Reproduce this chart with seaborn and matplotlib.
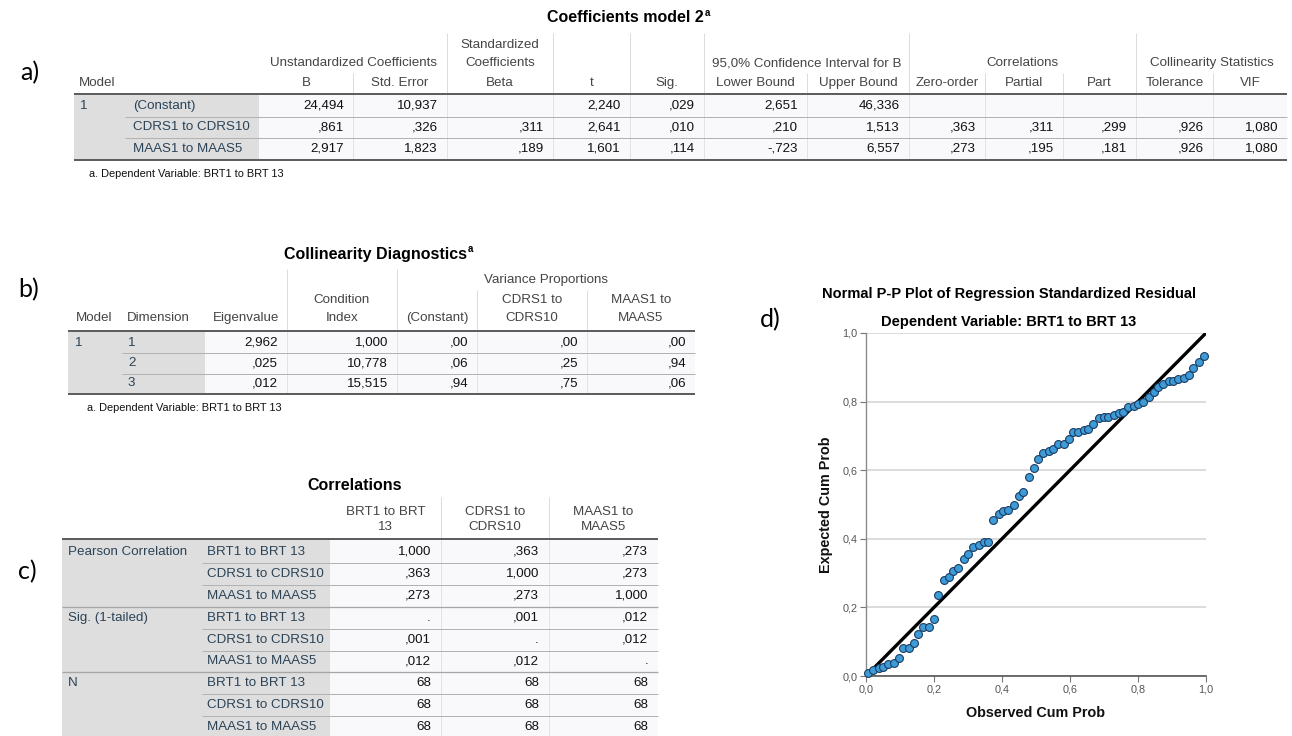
import matplotlib
matplotlib.use("Agg")
import matplotlib.pyplot as plt
from matplotlib.patches import Rectangle
from matplotlib.ticker import FuncFormatter
import pandas as pd
import seaborn as sns

# ---------------- a) Coefficients model 2 ----------------
coef_predictors = ["(Constant)", "CDRS1 to CDRS10", "MAAS1 to MAAS5"]
coef_b = ["24,494", ",861", "2,917"]
coef_se = ["10,937", ",326", "1,823"]
coef_beta = ["", ",311", ",189"]
coef_t = ["2,240", "2,641", "1,601"]
coef_sig = [",029", ",010", ",114"]
coef_lower = ["2,651", ",210", "-,723"]
coef_upper = ["46,336", "1,513", "6,557"]
coef_zero = ["", ",363", ",273"]
coef_partial = ["", ",311", ",195"]
coef_part = ["", ",299", ",181"]
coef_tol = ["", ",926", ",926"]
coef_vif = ["", "1,080", "1,080"]
coef_heads = ["B", "Std. Error", "Beta", "t", "Sig.", "Lower Bound", "Upper Bound",
              "Zero-order", "Partial", "Part", "Tolerance", "VIF"]

# ---------------- b) Collinearity diagnostics ----------------
diag_dims = ["1", "2", "3"]
diag_eigen = ["2,962", ",025", ",012"]
diag_cond = ["1,000", "10,778", "15,515"]
diag_vp_const = [",00", ",06", ",94"]
diag_vp_cdrs = [",00", ",25", ",75"]
diag_vp_maas = [",00", ",94", ",06"]

# ---------------- c) Correlations ----------------
corr_vars = ["BRT1 to BRT 13", "CDRS1 to CDRS10", "MAAS1 to MAAS5"]
corr_heads = [["BRT1 to BRT", "13"], ["CDRS1 to", "CDRS10"], ["MAAS1 to", "MAAS5"]]
corr_sections = ["Pearson Correlation", "Sig. (1-tailed)", "N"]
corr_pearson = [["1,000", ",363", ",273"], [",363", "1,000", ",273"], [",273", ",273", "1,000"]]
corr_sig = [[".", ",001", ",012"], [",001", ".", ",012"], [",012", ",012", "."]]
corr_n = [["68", "68", "68"], ["68", "68", "68"], ["68", "68", "68"]]

# ---------------- d) Normal P-P plot of standardized residuals ----------------
obs_cum_prob = [0.007, 0.022, 0.037, 0.051, 0.066, 0.081, 0.096, 0.110, 0.125, 0.140,
                0.154, 0.169, 0.184, 0.199, 0.213, 0.228, 0.243, 0.257, 0.272, 0.287,
                0.301, 0.316, 0.331, 0.346, 0.360, 0.375, 0.390, 0.404, 0.419, 0.434,
                0.449, 0.463, 0.478, 0.493, 0.507, 0.522, 0.537, 0.551, 0.566, 0.581,
                0.596, 0.610, 0.625, 0.640, 0.654, 0.669, 0.684, 0.699, 0.713, 0.728,
                0.743, 0.757, 0.772, 0.787, 0.801, 0.816, 0.831, 0.846, 0.860, 0.875,
                0.890, 0.904, 0.919, 0.934, 0.949, 0.963, 0.978, 0.993]
exp_cum_prob = [0.009, 0.018, 0.024, 0.026, 0.034, 0.038, 0.053, 0.083, 0.083, 0.096,
                0.122, 0.143, 0.143, 0.166, 0.236, 0.281, 0.289, 0.307, 0.316, 0.340,
                0.355, 0.375, 0.381, 0.390, 0.392, 0.455, 0.472, 0.481, 0.483, 0.499,
                0.525, 0.537, 0.581, 0.605, 0.632, 0.651, 0.656, 0.661, 0.675, 0.676,
                0.692, 0.711, 0.712, 0.716, 0.720, 0.734, 0.751, 0.754, 0.755, 0.760,
                0.768, 0.770, 0.784, 0.788, 0.793, 0.800, 0.813, 0.827, 0.843, 0.852,
                0.859, 0.860, 0.866, 0.868, 0.877, 0.897, 0.914, 0.932]
diag_ref = [0.0, 1.0]
pp_ticks = [0.0, 0.2, 0.4, 0.6, 0.8, 1.0]

sns.set_theme(style="white")
FONT = "Liberation Sans"
plt.rcParams["font.family"] = [FONT, "DejaVu Sans"]

W, H = 1292, 736
fig = plt.figure(figsize=(W / 100, H / 100), dpi=100)
fig.patch.set_facecolor("white")

# full-figure layer in pixel units for the SPSS-style tables
tab = fig.add_axes([0, 0, 1, 1])
tab.set_xlim(0, W)
tab.set_ylim(H, 0)
tab.axis("off")

PX = 0.72  # points per pixel
GRAY = "#DEDEDE"
CELL = "#F9F9FB"
LABEL_C = "#2B4357"
HEAD_C = "#454545"
VAL_C = "#111111"
THICK_C = "#5E5E5E"
SEP_C = "#B2B2B2"
VLINE_C = "#DCDCDC"
FS = 9.6
FOOT_FS = 7.9
TITLE_FS = 11.5

renderer = fig.canvas.get_renderer()


def rect(x0, y0, x1, y1, color):
    tab.add_patch(Rectangle((x0, y0), x1 - x0, y1 - y0, facecolor=color,
                            edgecolor="none", zorder=0))


def hline(x0, x1, y, color, px):
    tab.plot([x0, x1], [y, y], color=color, lw=px * PX, solid_capstyle="butt", zorder=2)


def vline(x, y0, y1, color=VLINE_C, px=1):
    tab.plot([x, x], [y0, y1], color=color, lw=px * PX, solid_capstyle="butt", zorder=1)


def txt(x, y, s, ha="left", color=VAL_C, size=FS, weight="normal", family=None):
    return tab.text(x, y, s, ha=ha, va="center", color=color, fontsize=size,
                    fontweight=weight, family=family or [FONT, "DejaVu Sans"], zorder=3)


def title(xc, y, s, size=TITLE_FS):
    t = txt(xc, y, s, ha="center", color="#000000", size=size, weight="bold")
    bb = t.get_window_extent(renderer)
    txt(bb.x1 + 1, y - 5, "a", color="#000000", size=7, weight="bold")


def panel_letter(x, y, s):
    txt(x, y, s, color="#000000", size=18, family=["Lato", "DejaVu Sans"])


# ======================= a) =======================
A_X = [74, 125, 259, 353, 447, 553, 630, 704, 807, 909, 985, 1063, 1136, 1213, 1287]
A_TOP, A_HL, A_BOT = 33, 93.5, 159.5
A_ROWS = [106, 127, 148.5]

title(625, 18, "Coefficients model 2")
panel_letter(20, 73, "a)")

rect(A_X[0], A_HL, A_X[2], A_BOT, GRAY)
rect(A_X[2], A_HL, A_X[-1], A_BOT, CELL)
for x in [447, 553, 630, 704, 909, 1136]:
    vline(x, A_TOP, A_HL)
for x in [353, 807, 985, 1063, 1213]:
    vline(x, 73, A_HL)
for x in A_X[3:-1]:
    vline(x, A_HL, A_BOT, color="#E3E3E3")
for y in [116.5, 137.5]:
    hline(A_X[1], A_X[-1], y, SEP_C, 1)
hline(A_X[0], A_X[-1], A_HL, THICK_C, 2)
hline(A_X[0], A_X[-1], A_BOT, THICK_C, 2)

a_groups = [(0, 2, ["Unstandardized Coefficients"]), (2, 3, ["Standardized", "Coefficients"]),
            (5, 7, ["95,0% Confidence Interval for B"]), (7, 10, ["Correlations"]),
            (10, 12, ["Collinearity Statistics"])]
for c0, c1, lines in a_groups:
    xc = (A_X[2 + c0] + A_X[2 + c1]) / 2
    for k, line in enumerate(lines):
        txt(xc, 63 - 18 * (len(lines) - 1 - k), line, ha="center", color=HEAD_C)
txt(79, 83, "Model", color=HEAD_C)
for j, head in enumerate(coef_heads):
    txt((A_X[2 + j] + A_X[3 + j]) / 2, 83, head, ha="center", color=HEAD_C)

txt(80, A_ROWS[0], "1", color=LABEL_C)
for i, name in enumerate(coef_predictors):
    txt(133, A_ROWS[i], name, color=LABEL_C)
a_cols = [coef_b, coef_se, coef_beta, coef_t, coef_sig, coef_lower, coef_upper,
          coef_zero, coef_partial, coef_part, coef_tol, coef_vif]
for j, col in enumerate(a_cols):
    for i, v in enumerate(col):
        if v:
            txt(A_X[3 + j] - 9, A_ROWS[i], v, ha="right")
txt(89, 174, "a. Dependent Variable: BRT1 to BRT 13", size=FOOT_FS)

# ======================= b) =======================
B_X = [68, 122, 205, 287, 397, 477, 587, 695]
B_TOP, B_HL, B_BOT = 269, 330.5, 393.5
B_ROWS = [342.5, 363, 383.5]

title(375, 254, "Collinearity Diagnostics")
panel_letter(18, 290, "b)")

rect(B_X[0], B_HL, B_X[2], B_BOT, GRAY)
rect(B_X[2], B_HL, B_X[-1], B_BOT, CELL)
for x in [287, 397]:
    vline(x, B_TOP, B_HL)
for x in [477, 587]:
    vline(x, 290, B_HL)
for x in B_X[3:-1]:
    vline(x, B_HL, B_BOT, color="#E3E3E3")
for y in [353, 373.5]:
    hline(B_X[1], B_X[-1], y, SEP_C, 1)
hline(B_X[0], B_X[-1], B_HL, THICK_C, 2)
hline(B_X[0], B_X[-1], B_BOT, THICK_C, 2)

txt((397 + 695) / 2, 280, "Variance Proportions", ha="center", color=HEAD_C)
txt(76, 318, "Model", color=HEAD_C)
txt(127, 318, "Dimension", color=HEAD_C)
txt(246, 318, "Eigenvalue", ha="center", color=HEAD_C)
txt(342, 300, "Condition", ha="center", color=HEAD_C)
txt(342, 318, "Index", ha="center", color=HEAD_C)
txt(437, 318, "(Constant)", ha="center", color=HEAD_C)
txt(532, 300, "CDRS1 to", ha="center", color=HEAD_C)
txt(532, 318, "CDRS10", ha="center", color=HEAD_C)
txt(641, 300, "MAAS1 to", ha="center", color=HEAD_C)
txt(641, 318, "MAAS5", ha="center", color=HEAD_C)

txt(75, B_ROWS[0], "1", color=LABEL_C)
for i, d in enumerate(diag_dims):
    txt(128, B_ROWS[i], d, color=LABEL_C)
b_cols = [diag_eigen, diag_cond, diag_vp_const, diag_vp_cdrs, diag_vp_maas]
for j, col in enumerate(b_cols):
    for i, v in enumerate(col):
        txt(B_X[3 + j] - 9, B_ROWS[i], v, ha="right")
txt(87, 408, "a. Dependent Variable: BRT1 to BRT 13", size=FOOT_FS)

# ======================= c) =======================
C_X = [62, 202, 330, 441, 549, 658]
C_TOP, C_HL = 497, 538.5
C_STEP = 21.9
C_ROWS = [552 + C_STEP * k for k in range(9)]
C_BOT = C_ROWS[-1] + C_STEP / 2

txt(355, 485, "Correlations", ha="center", color="#000000", size=TITLE_FS, weight="bold")
panel_letter(18, 572, "c)")

rect(C_X[0], C_HL, C_X[2], C_BOT, GRAY)
rect(C_X[2], C_HL, C_X[-1], C_BOT, CELL)
for x in [441, 549]:
    vline(x, C_TOP, C_HL)
for x in [441, 549]:
    vline(x, C_HL, C_BOT, color="#E3E3E3")
for k in range(8):
    y = (C_ROWS[k] + C_ROWS[k + 1]) / 2
    if k in (2, 5):
        hline(C_X[0], C_X[-1], y, "#A6A6A6", 1.3)
    else:
        hline(C_X[1], C_X[-1], y, SEP_C, 1)
hline(C_X[0], C_X[-1], C_HL, THICK_C, 2)
hline(C_X[0], C_X[-1], C_BOT, THICK_C, 2)

for j, (l1, l2) in enumerate(corr_heads):
    xc = (C_X[2 + j] + C_X[3 + j]) / 2
    txt(xc, 512, l1, ha="center", color=HEAD_C)
    txt(xc, 527, l2, ha="center", color=HEAD_C)

for s, (sec, block) in enumerate(zip(corr_sections, [corr_pearson, corr_sig, corr_n])):
    txt(68, C_ROWS[3 * s], sec, color=LABEL_C)
    for r, var in enumerate(corr_vars):
        y = C_ROWS[3 * s + r]
        txt(207, y, var, color=LABEL_C)
        for j, v in enumerate(block[r]):
            txt(C_X[3 + j] - 10, y, v, ha="right")

# ======================= d) =======================
panel_letter(760, 320, "d)")
txt(1009, 294, "Normal P-P Plot of Regression Standardized Residual", ha="center",
    color="#000000", size=10.5, weight="bold")
txt(1009, 322, "Dependent Variable: BRT1 to BRT 13", ha="center",
    color="#000000", size=10.5, weight="bold")

pp = pd.DataFrame({"Observed Cum Prob": obs_cum_prob, "Expected Cum Prob": exp_cum_prob})
ax = fig.add_axes([866 / W, 1 - 676 / H, 340 / W, 343 / H])
ax.set_facecolor("white")
ax.yaxis.grid(True, color="#D2D2D2", lw=1.1)
ax.xaxis.grid(False)
ax.set_axisbelow(True)
sns.lineplot(x=diag_ref, y=diag_ref, ax=ax, color="black", lw=2.4, zorder=2)
sns.scatterplot(data=pp, x="Observed Cum Prob", y="Expected Cum Prob", ax=ax, s=32,
                color="#3D9BD8", edgecolor="#1C3D63", linewidth=0.8, zorder=3, clip_on=False)
ax.set_xlim(0, 1)
ax.set_ylim(0, 1)
ax.set_xticks(pp_ticks)
ax.set_yticks(pp_ticks)
fmt = FuncFormatter(lambda v, _: f"{v:.1f}".replace(".", ","))
ax.xaxis.set_major_formatter(fmt)
ax.yaxis.set_major_formatter(fmt)
ax.tick_params(axis="both", labelsize=7.8, labelcolor="#555555", length=4, width=0.8,
               color="#777777", direction="out", pad=2)
ax.tick_params(axis="x", bottom=True)
ax.tick_params(axis="y", left=True)
for side in ["top", "right"]:
    ax.spines[side].set_visible(False)
ax.spines["left"].set_color("#8A8A8A")
ax.spines["bottom"].set_color("#555555")
ax.spines["left"].set_linewidth(1.0)
ax.spines["bottom"].set_linewidth(1.2)
ax.set_xlabel("Observed Cum Prob", fontsize=10.4, fontweight="bold", color="#111111")
ax.set_ylabel("Expected Cum Prob", fontsize=10.4, fontweight="bold", color="#111111")
ax.xaxis.set_label_coords(0.5, -(713 - 676) / 343)
ax.yaxis.set_label_coords(-(866 - 826) / 340, 0.5)
ax.xaxis.label.set_va("center")
ax.yaxis.label.set_va("center")

fig.savefig("out.png", dpi=100, facecolor="white")
